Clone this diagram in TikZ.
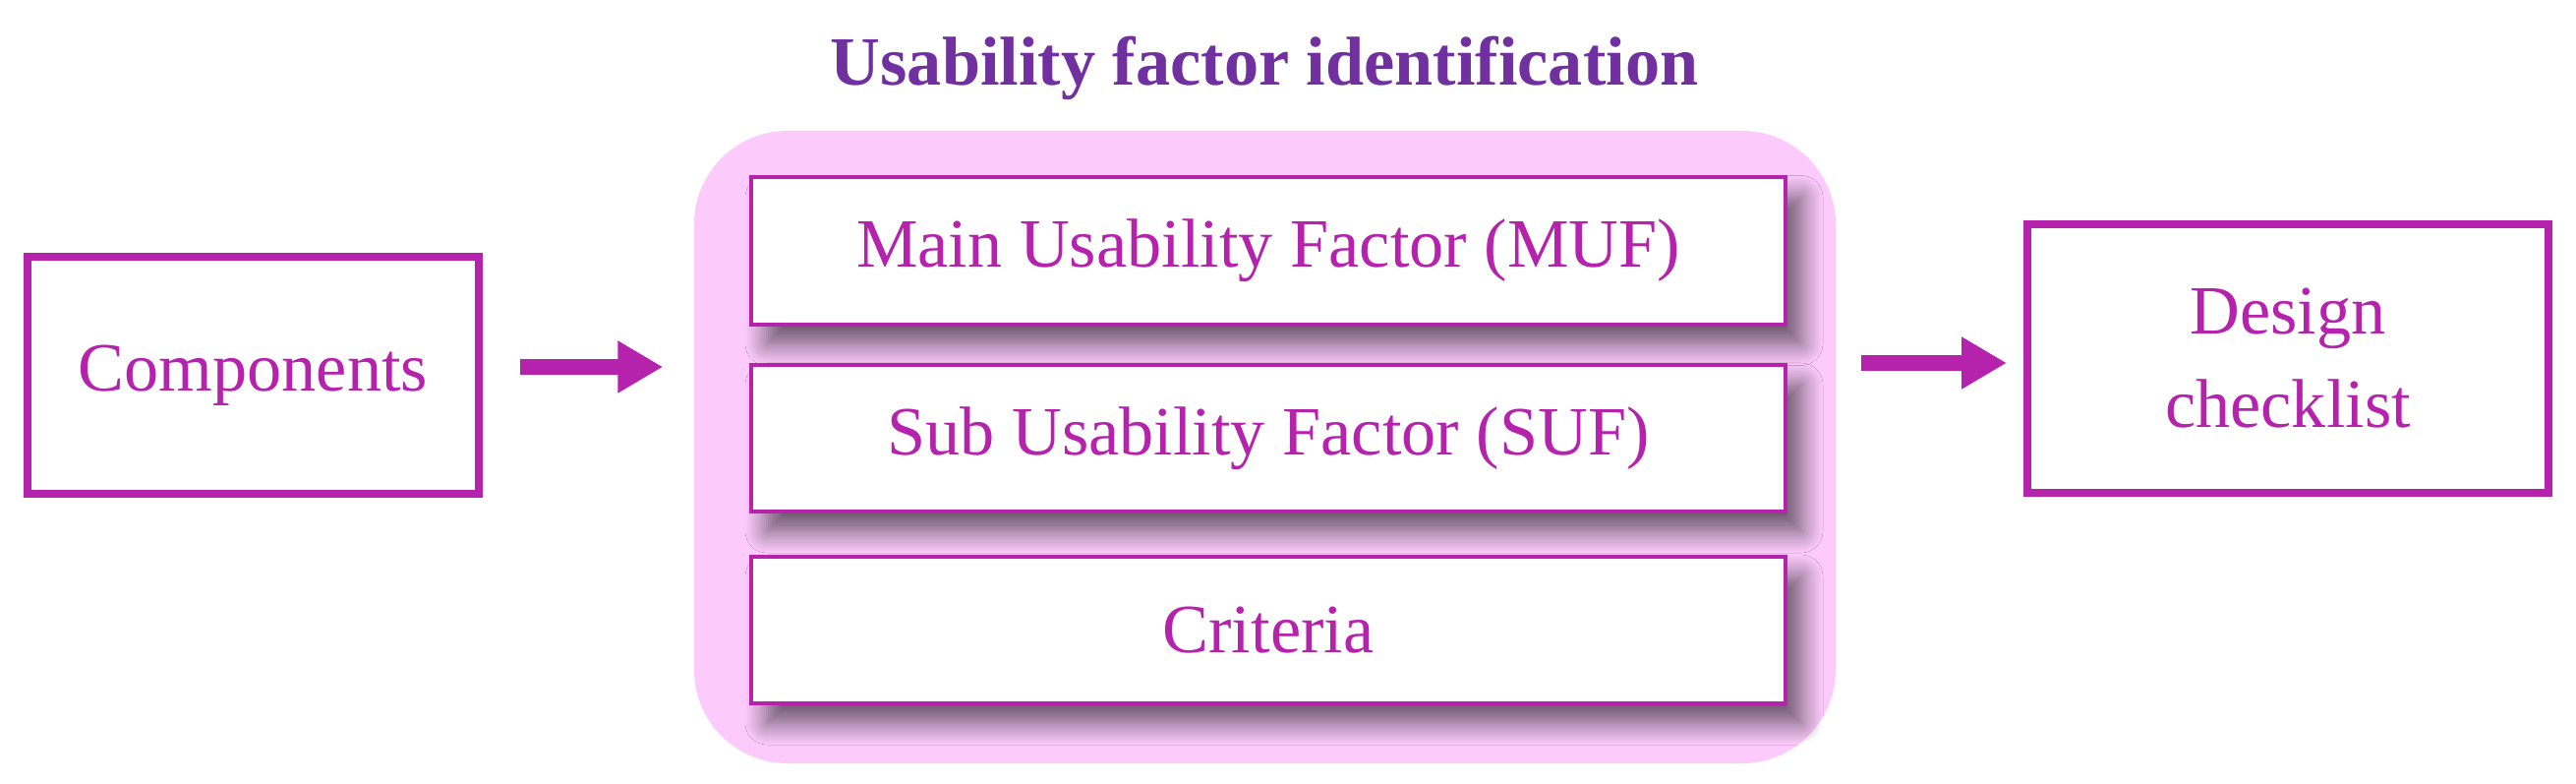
\documentclass[tikz,border=0pt]{standalone}
\usepackage{fontspec}
\setmainfont{Liberation Serif}
\usetikzlibrary{arrows.meta,
                positioning,
                shadows.blur
            }
\definecolor{ufmagenta}{HTML}{B523AD}
\definecolor{ufpurple}{HTML}{7030A0}
\definecolor{ufpink}{HTML}{FCCBFC}

\tikzset{
    outerbox/.style={draw=ufmagenta, line width=0.8mm, fill=white, text=ufmagenta, align=center},
    factorbox/.style={draw=ufmagenta, line width=0.4mm, fill=white, text=ufmagenta,
        minimum width=10.52cm, minimum height=1.49cm,
        blur shadow={shadow xshift=1.6mm, shadow yshift=-2mm, shadow blur radius=2.2mm,
                     shadow blur steps=12, shadow opacity=60}},
    fatarrow/.style={draw=ufmagenta, line width=1.6mm, -{Triangle[length=4.6mm, width=5mm]}}
}

\begin{document}
\begin{tikzpicture}[font=\fontsize{20}{27}\selectfont]
    \useasboundingbox (0, 0) rectangle (26.2, 7.96);
    \node[fill=ufpink, rounded corners=9.5mm, minimum width=11.61cm, minimum height=6.43cm] (ufi) at (12.865, 3.415) {};
    \node[text=ufpurple, font=\fontsize{20}{27}\selectfont\bfseries, anchor=base] (title) at (12.86, 7.09) {Usability factor identification};
    \node[factorbox] (muf) at (12.90, 5.41) {Main Usability Factor (MUF)};
    \node[factorbox] (suf) at (12.90, 3.505) {Sub Usability Factor (SUF)};
    \node[factorbox] (crit) at (12.90, 1.555) {Criteria};
    \node[outerbox, minimum width=4.59cm, minimum height=2.41cm] (comp) at (2.575, 4.145) {Components};
    \node[outerbox, minimum width=5.30cm, minimum height=2.73cm] (check) at (23.27, 4.315) {Design\\checklist};
    \draw[fatarrow, shorten <=3.8mm, shorten >=3.1mm] ([yshift=0.85mm]comp.east) -- ([yshift=0.85mm]comp.east -| ufi.west);
    \draw[fatarrow, shorten <=2.5mm, shorten >=1.7mm] ([yshift=-0.45mm]check.west -| ufi.east) -- ([yshift=-0.45mm]check.west);
\end{tikzpicture}
\end{document}
